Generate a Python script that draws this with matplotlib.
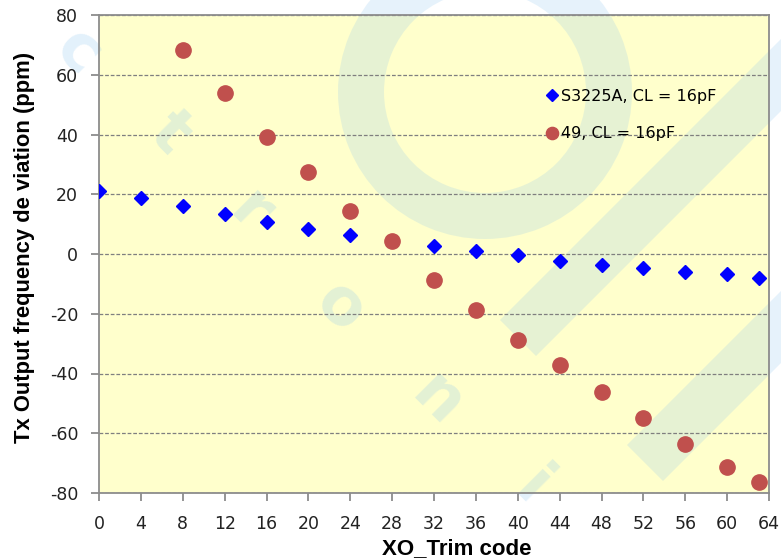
import matplotlib
matplotlib.use("Agg")
import matplotlib.pyplot as plt
from matplotlib.patches import Annulus, Polygon, Rectangle

# trim code vs. frequency deviation for two crystals
trim_s3225a = [0, 4, 8, 12, 16, 20, 24, 28, 32, 36, 40, 44, 48, 52, 56, 60, 63]
ppm_s3225a = [21.2, 18.6, 15.9, 13.4, 10.6, 8.5, 6.5, 4.3, 2.7, 1.1, -0.4, -2.2,
              -3.8, -4.8, -5.9, -6.8, -8.0]

trim_49 = [8, 12, 16, 20, 24, 28, 32, 36, 40, 44, 48, 52, 56, 60, 63]
ppm_49 = [68.2, 53.8, 39.1, 27.3, 14.5, 4.3, -8.6, -18.7, -28.8, -37.3, -46.2,
          -54.9, -63.6, -71.4, -76.3]

x_ticks = list(range(0, 65, 4))
y_ticks = list(range(-80, 81, 20))

plt.rcParams["axes.unicode_minus"] = False

W, H = 781, 560
fig = plt.figure(figsize=(W / 100, H / 100), dpi=100)

# backdrop layer in pixel units (y down) for the plot fill and the faint logo
bg = fig.add_axes([0, 0, 1, 1], zorder=0)
bg.set_xlim(0, W)
bg.set_ylim(H, 0)
bg.axis("off")

ax = fig.add_axes([99 / W, 1 - 493 / H, 670 / W, 478 / H], zorder=1)
ax.set_facecolor("none")

pos = ax.get_position()
bg.add_patch(Rectangle((pos.x0 * W, (1 - pos.y1) * H), pos.width * W, pos.height * H,
                       facecolor="#FFFFCC", edgecolor="none", zorder=0))

logo = dict(facecolor="#8FC7EF", edgecolor="none", alpha=0.22, zorder=1)
bg.add_patch(Annulus((485, 92), 147, 46, **logo))
bg.add_patch(Polygon([(500, 320), (536, 356), (820, 72), (784, 36)], closed=True, **logo))
bg.add_patch(Polygon([(627, 445), (663, 481), (820, 324), (784, 288)], closed=True, **logo))
for ch, (lx, ly) in zip("ctroni", [(78, 52), (170, 133), (250, 212), (340, 307),
                                   (437, 400), (532, 488)]):
    bg.text(lx, ly, ch, fontsize=46, fontweight="bold", color="#8FC7EF", alpha=0.25,
            rotation=-45, ha="center", va="center", zorder=1)

ax.plot(trim_s3225a, ppm_s3225a, linestyle="none", marker="D", markersize=7.5,
        color="#0000FF", label="S3225A, CL = 16pF", zorder=3)
ax.plot(trim_49, ppm_49, linestyle="none", marker="o", markersize=11,
        color="#C0504D", label="49, CL = 16pF", zorder=3)

ax.set_xlim(0, 64)
ax.set_ylim(-80, 80)
ax.set_xticks(x_ticks)
ax.set_yticks(y_ticks)
ax.grid(axis="y", linestyle=(0, (3, 1.5)), color="#7F7F7F", linewidth=0.9)
ax.set_axisbelow(True)

for side in ax.spines.values():
    side.set_color("#8C8C8C")
    side.set_linewidth(1.3)

ax.tick_params(axis="both", direction="out", length=6, width=1.3, color="#8C8C8C",
               labelsize=12.5, labelcolor="#222222")
ax.tick_params(axis="x", pad=10)
ax.tick_params(axis="y", pad=9)

ax.set_xlabel("XO_Trim code", fontsize=16, fontweight="bold",
              family="Liberation Sans")
ax.xaxis.set_label_coords(0.534, -0.094)
ax.set_ylabel("Tx Output frequency de viation (ppm)", fontsize=15.8, fontweight="bold",
              family="Liberation Sans")
ax.yaxis.set_label_coords(-0.095, 0.513)

ax.legend(loc="upper left", bbox_to_anchor=(0.653, 0.862), frameon=False,
          fontsize=11.5, handletextpad=0.05, handlelength=1.0, labelspacing=1.4,
          markerscale=0.8, borderpad=0)

fig.savefig("out.png", dpi=100)
